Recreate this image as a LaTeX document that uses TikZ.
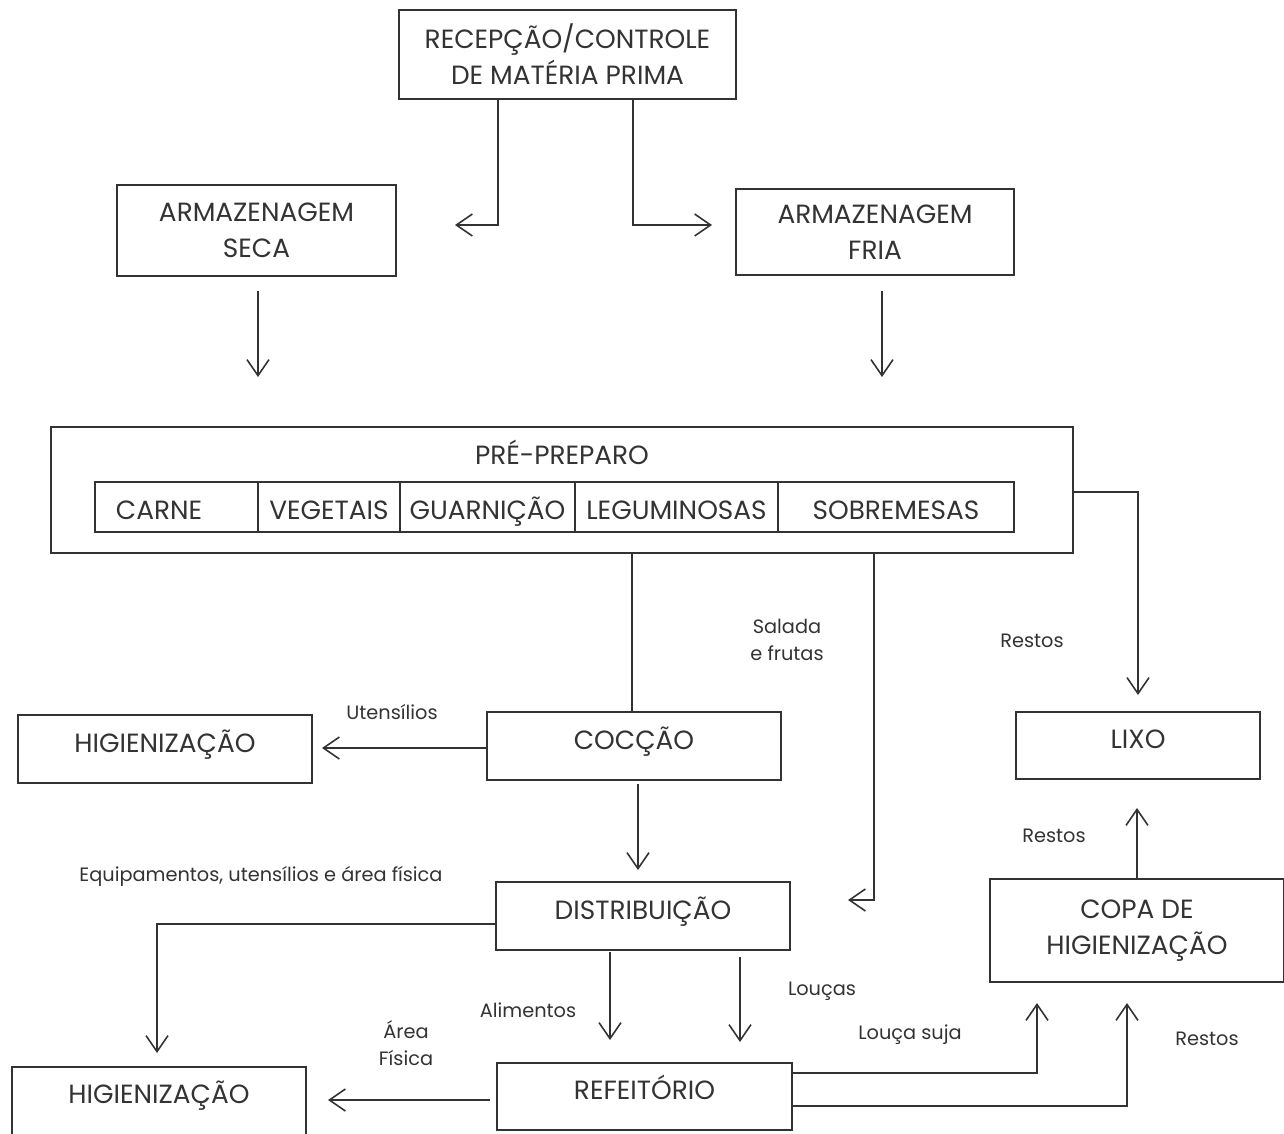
\documentclass[tikz,border=0pt]{standalone}
\usepackage{fontspec}
\setmainfont{Poppins}
\usetikzlibrary{arrows.meta,calc}
\definecolor{ink}{HTML}{333333}
\begin{document}
\begin{tikzpicture}[x=0.02cm,y=-0.02cm,
  box/.style={draw=ink,line width=0.9pt,inner sep=0pt,align=center,text=ink,font=\fontsize{15}{20.5}\selectfont},
  one/.style={text height=0.37cm,text depth=#1},
  cell/.style={draw=ink,line width=0.9pt,inner sep=0pt,text=ink,font=\fontsize{15}{20}\selectfont,minimum height=1cm,text height=0.49cm,text depth=0pt},
  lbl/.style={text=ink,inner sep=0pt,align=center,font=\fontsize{11}{15}\selectfont},
  line/.style={draw=ink,line width=0.9pt},
  arr/.style={line,-{Straight Barb[length=3.2mm,width=4.4mm,line width=0.9pt]}}]
\useasboundingbox (0,0) rectangle (1284,1133);
\fill[white] (0,0) rectangle (1284,1133);
% boxes
\node[box,minimum width=6.74cm,minimum height=1.78cm] (rec) at (567.5,54.5) {RECEPÇÃO/CONTROLE\\DE MATÉRIA PRIMA};
\node[box,minimum width=5.58cm,minimum height=1.82cm] (seca) at (256.5,230.5) {ARMAZENAGEM\\SECA};
\node[box,minimum width=5.56cm,minimum height=1.72cm] (fria) at (875,232) {ARMAZENAGEM\\FRIA};
\node[draw=ink,line width=0.9pt,minimum width=20.44cm,minimum height=2.52cm] (pre) at (562,490) {};
\node[text=ink,inner sep=0pt,font=\fontsize{15}{20}\selectfont,one=0pt] (pretit) at (562,455) {PRÉ-PREPARO};
\node[cell,minimum width=3.26cm] (carne) at (176.5,507) {};
\node[text=ink,inner sep=0pt,font=\fontsize{15}{20}\selectfont,one=0pt] (carnet) at (159,510) {CARNE};
\node[cell,minimum width=2.84cm] (veg) at (329,507) {VEGETAIS};
\node[cell,minimum width=3.5cm] (guar) at (487.5,507) {GUARNIÇÃO};
\node[cell,minimum width=4.06cm] (leg) at (676.5,507) {LEGUMINOSAS};
\node[cell,minimum width=4.72cm] (sob) at (896,507) {SOBREMESAS};
\node[box,minimum width=5.88cm,minimum height=1.36cm,one=0.24cm] (hig1) at (165,749) {HIGIENIZAÇÃO};
\node[box,minimum width=5.88cm,minimum height=1.36cm,one=0.24cm] (coc) at (634,746) {COCÇÃO};
\node[box,minimum width=4.88cm,minimum height=1.34cm,one=0.26cm] (lixo) at (1138,745.5) {LIXO};
\node[box,minimum width=5.88cm,minimum height=1.36cm,one=0.24cm] (dist) at (643,916) {DISTRIBUIÇÃO};
\node[box,minimum width=5.88cm,minimum height=2.06cm] (copa) at (1137,930.5) {COPA DE\\HIGIENIZAÇÃO};
\node[box,minimum width=5.88cm,minimum height=1.46cm,one=0.38cm] (hig2) at (159,1103.5) {HIGIENIZAÇÃO};
\node[box,minimum width=5.9cm,minimum height=1.34cm,one=0.26cm] (ref) at (644.5,1096.5) {REFEITÓRIO};
% labels
\node[lbl] (lsal) at (787,640) {Salada\\e frutas};
\node[lbl] (lres1) at (1032,641) {Restos};
\node[lbl] (lute) at (392,712) {Utensílios};
\node[lbl] (lres2) at (1054,836) {Restos};
\node[lbl] (lequ) at (261,876) {Equipamentos, utensílios e área física};
\node[lbl] (lali) at (528,1010) {Alimentos};
\node[lbl] (llou) at (822,991) {Louças};
\node[lbl] (lare) at (406,1043) {Área\\Física};
\node[lbl] (lsuj) at (910,1035) {Louça suja};
\node[lbl] (lres3) at (1207,1039) {Restos};
% coordinates
\coordinate (k1) at (498,225);
\coordinate (e1) at (455,225);
\coordinate (k2) at (633,225);
\coordinate (e2) at (712,225);
\coordinate (e3) at (258,377);
\coordinate (e4) at (882,377);
\coordinate (k5) at (632,0);
\coordinate (k6) at (874,900);
\coordinate (e6) at (848,900);
\coordinate (k7) at (1138,492);
\coordinate (e7) at (1138,695);
\coordinate (e8) at (322,748);
\coordinate (s9) at (638,784);
\coordinate (e9) at (638,870);
\coordinate (k10) at (157,924);
\coordinate (e10) at (157,1053);
\coordinate (s11) at (610,952);
\coordinate (e11) at (610,1040);
\coordinate (s12) at (740,957);
\coordinate (e12) at (740,1042);
\coordinate (s13) at (490,1100);
\coordinate (e13) at (328,1100);
\coordinate (k14) at (1037,1073);
\coordinate (e14) at (1037,1003);
\coordinate (k15) at (1127,1106);
\coordinate (e15) at (1127,1003);
\coordinate (e16) at (1137,808);
% connectors
\draw[arr] (rec.south -| k1) -- (k1) -- (e1);
\draw[arr] (rec.south -| k2) -- (k2) -- (e2);
\draw[arr] (seca.south -| e3) ++(0,14) -- (e3);
\draw[arr] (fria.south -| e4) ++(0,15) -- (e4);
\draw[line] (pre.south -| k5) -- (coc.north -| k5);
\draw[arr] (pre.south -| k6) -- (k6) -- (e6);
\draw[arr] (pre.east |- k7) -- (k7) -- (e7);
\draw[arr] (coc.west |- e8) -- (e8);
\draw[arr] (s9) -- (e9);
\draw[arr] (dist.west |- k10) -- (k10) -- (e10);
\draw[arr] (s11) -- (e11);
\draw[arr] (s12) -- (e12);
\draw[arr] (s13) -- (e13);
\draw[arr] (ref.east |- k14) -- (k14) -- (e14);
\draw[arr] (ref.east |- k15) -- (k15) -- (e15);
\draw[arr] (copa.north -| e16) -- (e16);
\end{tikzpicture}
\end{document}
